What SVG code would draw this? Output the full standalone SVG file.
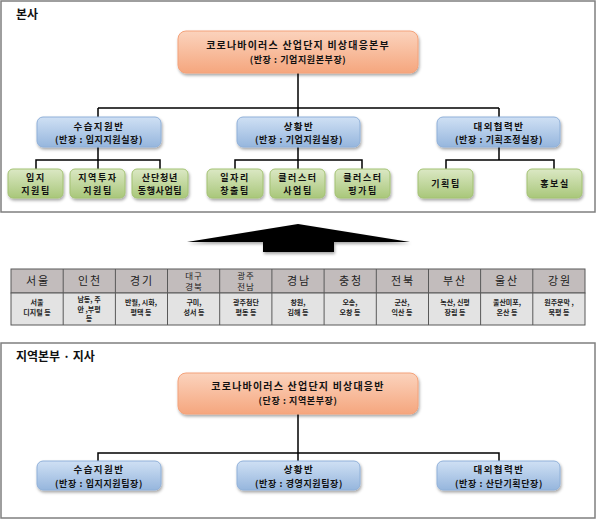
<svg xmlns="http://www.w3.org/2000/svg" width="597" height="519" viewBox="0 0 597 519">
<defs>
<linearGradient id="gOr" x1="0" y1="0" x2="0" y2="1"><stop offset="0" stop-color="#fbd3bd"/><stop offset="1" stop-color="#f5a67e"/></linearGradient>
<linearGradient id="gBl" x1="0" y1="0" x2="0" y2="1"><stop offset="0" stop-color="#cfe0f4"/><stop offset="1" stop-color="#96b6dd"/></linearGradient>
<linearGradient id="gGr" x1="0" y1="0" x2="0" y2="1"><stop offset="0" stop-color="#dbe8c4"/><stop offset="1" stop-color="#a9c77a"/></linearGradient>
<filter id="sh" x="-20%" y="-30%" width="140%" height="170%"><feDropShadow dx="1" dy="2" stdDeviation="1.5" flood-color="#000" flood-opacity="0.35"/></filter>
</defs>
<style>
text{font-family:"Noto Sans CJK KR","Noto Sans",sans-serif;font-weight:bold;fill:#111;text-anchor:middle}
.panel{fill:#fff;stroke:#7f7f7f;stroke-width:1.5}
.ttl{text-anchor:start;font-size:12px}
.or{fill:url(#gOr);stroke:#f4a27a;stroke-width:1;filter:url(#sh)}
.bl{fill:url(#gBl);stroke:#8fb0d9;stroke-width:1;filter:url(#sh)}
.gr{fill:url(#gGr);stroke:#a3c273;stroke-width:1;filter:url(#sh)}
.t0{font-size:10px;letter-spacing:1.2px}
.t1{font-size:9.5px;letter-spacing:1.5px}
.t2{font-size:9px;letter-spacing:0.6px}
.tg{font-size:9px;letter-spacing:1.6px}
.con{fill:none;stroke:#000;stroke-width:1.5}
.hd{fill:#c2bcbc;stroke:#595959;stroke-width:1}
.bd{fill:#e3e3e3;stroke:#595959;stroke-width:1}
.th{font-size:11px;letter-spacing:2px;fill:#222;font-weight:normal}
.th2{font-size:8.5px;letter-spacing:1px;fill:#222;font-weight:normal}
.tb{font-size:7px;fill:#222}
</style>

<rect class="panel" x="1" y="1" width="594" height="211"/>
<text class="ttl" x="16" y="19">본사</text>
<rect class="panel" x="1" y="343" width="594" height="175"/>
<text class="ttl" x="16" y="361">지역본부 · 지사</text>

<g id="connectors">
<path class="con" d="M298 73V108M98 108H499M98 108V117M298 108V117M499 108V117"/>
<path class="con" d="M98 147V160M36 169V160H160V169M98 160V169"/>
<path class="con" d="M298 147V160M235 169V160H362V169M298 160V169"/>
<path class="con" d="M499 147V160M446 169V160H554V169"/>
<path class="con" d="M298 414V453M98 461V453H499V461M298 453V461"/>
</g>

<g id="hq">
<rect class="or" x="178" y="31" width="240" height="42" rx="8"/>
<text class="t0" x="298" y="49">코로나바이러스 산업단지 비상대응본부</text>
<text class="t2" x="298" y="63">(반장 : 기업지원본부장)</text>
</g>
<g id="hq-a">
<rect class="bl" x="37" y="117" width="124" height="30" rx="6"/>
<text class="t1" x="99" y="129.5">수습지원반</text>
<text class="t2" x="99" y="143">(반장 : 입지지원실장)</text>
</g>
<g id="hq-b">
<rect class="bl" x="237" y="117" width="123" height="30" rx="6"/>
<text class="t1" x="299" y="129.5">상황반</text>
<text class="t2" x="299" y="143">(반장 : 기업지원실장)</text>
</g>
<g id="hq-c">
<rect class="bl" x="437" y="117" width="123" height="30" rx="6"/>
<text class="t1" x="499" y="129.5">대외협력반</text>
<text class="t2" x="499" y="143">(반장 : 기획조정실장)</text>
</g>

<g id="g1"><rect class="gr" x="8" y="169" width="55" height="29" rx="5"/><text class="tg" x="36" y="180.5">입지</text><text class="tg" x="36" y="193.5">지원팀</text></g>
<g id="g2"><rect class="gr" x="70" y="169" width="55" height="29" rx="5"/><text class="tg" x="98" y="180.5">지역투자</text><text class="tg" x="98" y="193.5">지원팀</text></g>
<g id="g3"><rect class="gr" x="132" y="169" width="56" height="29" rx="5"/><text class="tg" x="160" y="180.5" style="letter-spacing:0.8px">산단청년</text><text class="tg" x="160" y="193.5" style="letter-spacing:0.6px">동행사업팀</text></g>
<g id="g4"><rect class="gr" x="207" y="169" width="56" height="29" rx="5"/><text class="tg" x="235" y="180.5">일자리</text><text class="tg" x="235" y="193.5">창출팀</text></g>
<g id="g5"><rect class="gr" x="270" y="169" width="55" height="29" rx="5"/><text class="tg" x="298" y="180.5">클러스터</text><text class="tg" x="298" y="193.5">사업팀</text></g>
<g id="g6"><rect class="gr" x="335" y="169" width="55" height="29" rx="5"/><text class="tg" x="363" y="180.5">클러스터</text><text class="tg" x="363" y="193.5">평가팀</text></g>
<g id="g7"><rect class="gr" x="418" y="169" width="55" height="29" rx="5"/><text class="tg" x="446" y="187">기획팀</text></g>
<g id="g8"><rect class="gr" x="527" y="169" width="55" height="29" rx="5"/><text class="tg" x="555" y="187">홍보실</text></g>

<polygon points="187,242 298,224 410,242 334,242 334,252 263,252 263,242" fill="#000" filter="url(#sh)"/>

<g id="table">
<rect class="hd" x="11" y="269" width="574" height="24"/>
<rect class="bd" x="11" y="293" width="574" height="32"/>
<path d="M63.2 269V325M115.4 269V325M167.5 269V325M219.7 269V325M271.9 269V325M324.1 269V325M376.3 269V325M428.5 269V325M480.6 269V325M532.8 269V325" stroke="#595959" stroke-width="1"/>
<text class="th" x="38" y="285">서울</text>
<text class="th" x="90" y="285">인천</text>
<text class="th" x="142" y="285">경기</text>
<text class="th2" x="194" y="279">대구</text>
<text class="th2" x="194" y="290">경북</text>
<text class="th2" x="246" y="279">광주</text>
<text class="th2" x="246" y="290">전남</text>
<text class="th" x="299" y="285">경남</text>
<text class="th" x="351" y="285">충청</text>
<text class="th" x="403" y="285">전북</text>
<text class="th" x="455" y="285">부산</text>
<text class="th" x="507" y="285">울산</text>
<text class="th" x="560" y="285">강원</text>

<text class="tb" x="37" y="305">서울</text><text class="tb" x="37" y="315">디지털 등</text>
<text class="tb" x="89" y="302">남동, 주</text><text class="tb" x="89" y="311.5">안 ,부평</text><text class="tb" x="89" y="321">등</text>
<text class="tb" x="141" y="305">반월, 시화,</text><text class="tb" x="141" y="315">평택 등</text>
<text class="tb" x="194" y="305">구미,</text><text class="tb" x="194" y="315">성서 등</text>
<text class="tb" x="246" y="305">광주첨단</text><text class="tb" x="246" y="315">평동 등</text>
<text class="tb" x="298" y="305">창원,</text><text class="tb" x="298" y="315">김해 등</text>
<text class="tb" x="350" y="305">오송,</text><text class="tb" x="350" y="315">오창 등</text>
<text class="tb" x="402" y="305">군산,</text><text class="tb" x="402" y="315">익산 등</text>
<text class="tb" x="455" y="305">녹산, 신평</text><text class="tb" x="455" y="315">장림 등</text>
<text class="tb" x="507" y="305">울산미포,</text><text class="tb" x="507" y="315">온산 등</text>
<text class="tb" x="559" y="305">원주문막 ,</text><text class="tb" x="559" y="315">북평 등</text>
</g>

<g id="rg">
<rect class="or" x="178" y="373" width="240" height="41" rx="8"/>
<text class="t0" x="298" y="390">코로나바이러스 산업단지 비상대응반</text>
<text class="t2" x="298" y="404">(단장 : 지역본부장)</text>
</g>
<g id="rg-a">
<rect class="bl" x="37" y="461" width="124" height="29" rx="6"/>
<text class="t1" x="99" y="473">수습지원반</text>
<text class="t2" x="99" y="486.5">(반장 : 입지지원팀장)</text>
</g>
<g id="rg-b">
<rect class="bl" x="237" y="461" width="123" height="29" rx="6"/>
<text class="t1" x="299" y="473">상황반</text>
<text class="t2" x="299" y="486.5">(반장 : 경영지원팀장)</text>
</g>
<g id="rg-c">
<rect class="bl" x="437" y="461" width="123" height="29" rx="6"/>
<text class="t1" x="499" y="473">대외협력반</text>
<text class="t2" x="499" y="486.5">(반장 : 산단기획단장)</text>
</g>
</svg>
